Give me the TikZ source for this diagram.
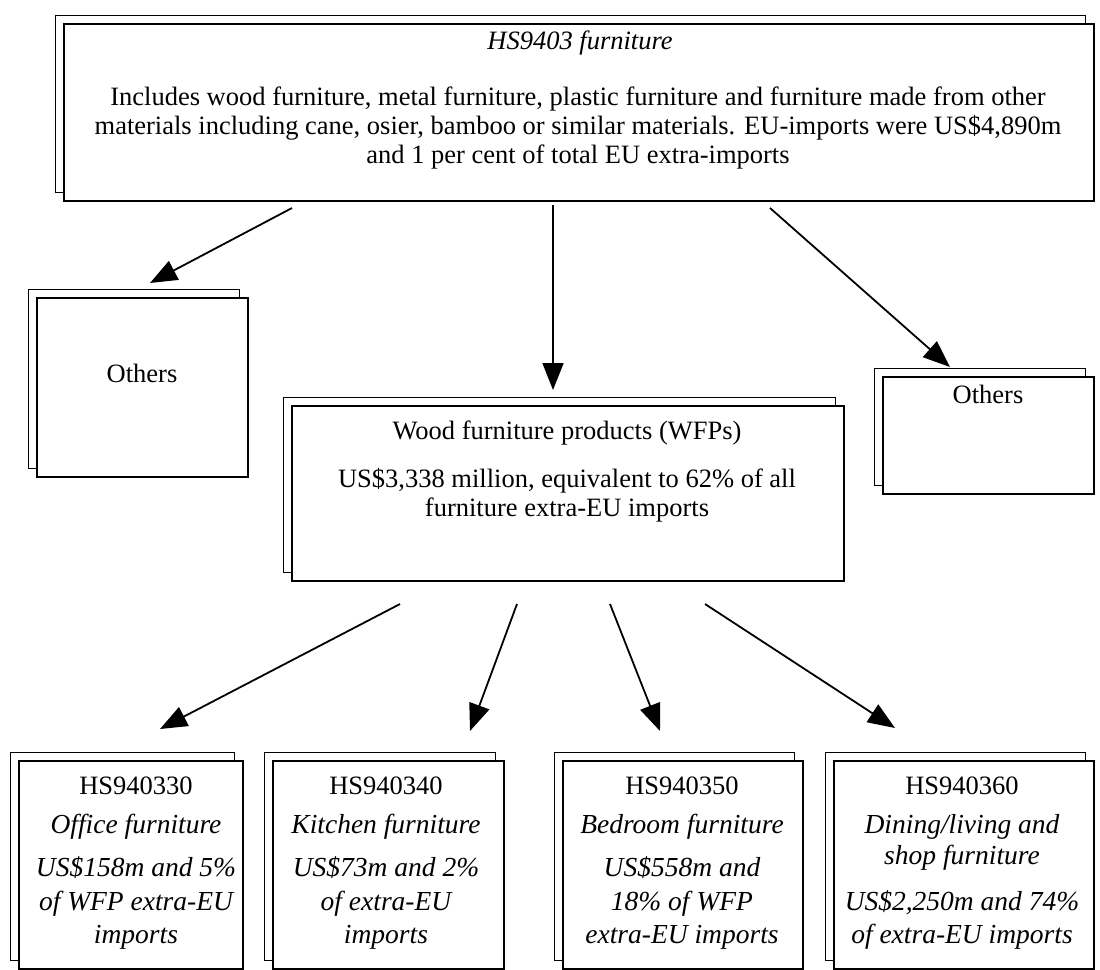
\documentclass[tikz,border=0pt]{standalone}
\usepackage{fontspec}
\setmainfont{Liberation Serif}
\usetikzlibrary{arrows.meta,positioning,shadows}

\begin{document}
\begin{tikzpicture}[x=1pt, y=-1pt,
  panel/.style={draw, line width=1.6pt, fill=white, inner sep=0pt, anchor=north west,
    general shadow={draw, fill=white, line width=0.8pt, shadow xshift=-8pt, shadow yshift=8pt}},
  txt/.style={align=center, inner sep=0pt, font=\fontsize{26.5}{29}\selectfont},
  lowtxt/.style={txt, font=\fontsize{27.5}{33.5}\selectfont\itshape},
  arr/.style={-{Triangle[length=27pt,width=21pt]}, line width=1.8pt}]
\useasboundingbox (0,0) rectangle (1100,969);
% boxes
\node[panel, minimum width=1030pt, minimum height=177pt] (furn) at (63,23) {};
\node[panel, minimum width=211pt, minimum height=179pt] (othl) at (36,297) {};
\node[panel, minimum width=211pt, minimum height=117pt] (othr) at (882,376) {};
\node[panel, minimum width=552pt, minimum height=175pt] (wfp) at (291,405) {};
\node[panel, minimum width=224pt, minimum height=208pt] (off) at (18,760) {};
\node[panel, minimum width=231pt, minimum height=208pt] (kit) at (272,760) {};
\node[panel, minimum width=240pt, minimum height=208pt] (bed) at (562,760) {};
\node[panel, minimum width=260pt, minimum height=208pt] (din) at (833,760) {};
% texts
\node[txt, font=\fontsize{26.5}{29}\selectfont\itshape] (furnhd) at (580,43) {HS9403 furniture};
\node[txt] (furntx) at (578,128) {Includes wood furniture, metal furniture, plastic furniture and furniture made from other\\
  materials including cane, osier, bamboo or similar materials. EU-imports were US\$4,890m\\
  and 1 per cent of total EU extra-imports};
\node[txt] (othltx) at (142,373) {Others};
\node[txt] (othrtx) at (988,394) {Others};
\node[txt] (wfphd) at (567,433) {Wood furniture products (WFPs)};
\node[txt] (wfptx) at (567,495) {US\$3,338 million, equivalent to 62\% of all\\ furniture extra-EU imports};
\node[txt] (offhd) at (136,786) {HS940330};
\node[lowtxt] (offnm) at (136,827) {Office furniture};
\node[lowtxt] (offtx) at (136,903) {US\$158m and 5\%\\ of WFP extra-EU\\ imports};
\node[txt] (kithd) at (386,786) {HS940340};
\node[lowtxt] (kitnm) at (386,827) {Kitchen furniture};
\node[lowtxt] (kittx) at (386,903) {US\$73m and 2\%\\ of extra-EU\\ imports};
\node[txt] (bedhd) at (682,786) {HS940350};
\node[lowtxt] (bednm) at (682,827) {Bedroom furniture};
\node[lowtxt] (bedtx) at (682,903) {US\$558m and\\ 18\% of WFP\\ extra-EU imports};
\node[txt] (dinhd) at (962,786) {HS940360};
\node[lowtxt, font=\fontsize{27.5}{31}\selectfont\itshape] (dinnm) at (962,842) {Dining/living and\\ shop furniture};
\node[lowtxt] (dintx) at (962,920) {US\$2,250m and 74\%\\ of extra-EU imports};
% arrow ends
\coordinate (a1) at (292,208);  \coordinate (a1e) at (150,283);
\coordinate (a2) at (553,205);  \coordinate (a2e) at (553,390);
\coordinate (a3) at (770,208);  \coordinate (a3e) at (950,367);
\coordinate (b1) at (400,604);  \coordinate (b1e) at (160,729);
\coordinate (b2) at (517,604);  \coordinate (b2e) at (470,731);
\coordinate (b3) at (610,604);  \coordinate (b3e) at (660,731);
\coordinate (b4) at (705,604);  \coordinate (b4e) at (895,728);
\foreach \s/\e in {a1/a1e, a2/a2e, a3/a3e, b1/b1e, b2/b2e, b3/b3e, b4/b4e}
  \draw[arr] (\s) -- (\e);
\end{tikzpicture}
\end{document}
